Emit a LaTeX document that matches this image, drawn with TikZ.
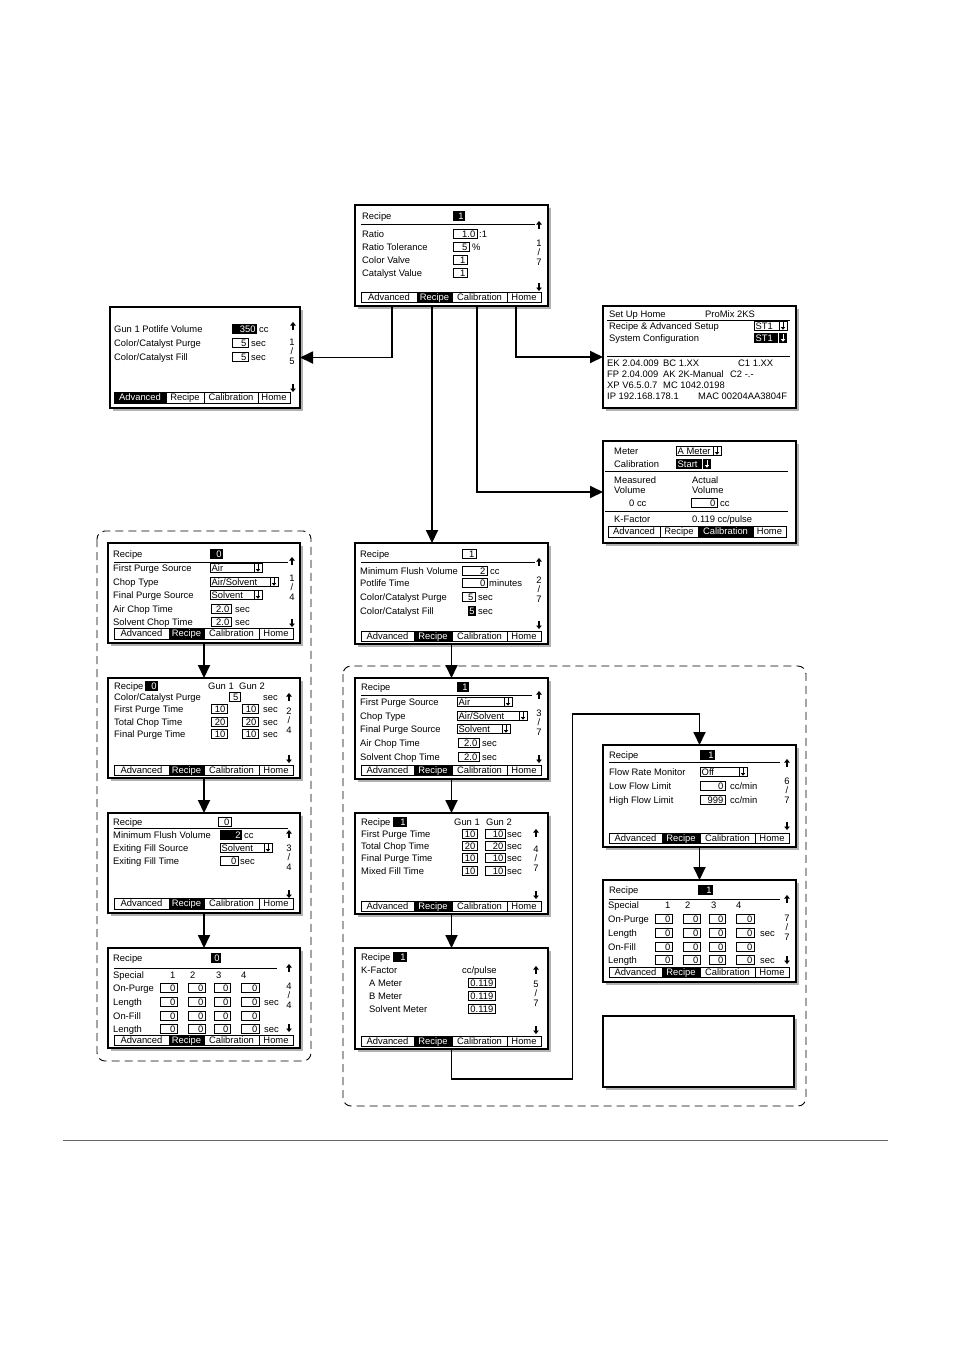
\documentclass[tikz,border=0pt]{standalone}
\usepackage{fontspec}
\setmainfont{Liberation Sans}
\usetikzlibrary{arrows.meta,shadows}
\newcount\tcnt
\newcommand\lcd{\fontsize{9.4}{10}\selectfont}
\newcommand\nx{\global\advance\tcnt by 1\relax}
\tikzset{
  scr/.style={draw,line width=1.3pt,fill=white,anchor=north west,inner sep=0pt,outer sep=0pt,
    drop shadow={shadow xshift=2.5pt,shadow yshift=-2.5pt,opacity=0.5,fill=black!60}},
  lt/.style={anchor=base west,inner sep=0pt,font=\lcd},
  rt/.style={anchor=base east,inner sep=0pt,font=\lcd},
  ct/.style={anchor=base,inner sep=0pt,font=\lcd},
  bx/.style={line width=0.7pt},
  ddarr/.style={line width=1pt,-{Triangle[length=2.6pt,width=4.2pt]}},
  sarr/.style={line width=1.2pt,-{Triangle[length=3.5pt,width=5.5pt]}},
  conn/.style={line width=1.8pt,-{Triangle[length=13pt,width=12pt]}},
  region/.style={line width=0.9pt,dash pattern=on 8pt off 5pt,rounded corners=8pt},
}
\newcommand\screen[5]{\node[scr,minimum width=#4pt,minimum height=#5pt] (#1) at (#2,#3) {};}
\newcommand\lbl[3]{\nx\node[lt] (t\the\tcnt) at (#1,#2+3.3) {#3};}
\newcommand\vb[4]{\draw[bx] (#1,#3-4.7) rectangle (#2,#3+4.7);\nx\node[rt] (t\the\tcnt) at (#2-1.5,#3+3.3) {#4};}
\newcommand\hb[4]{\fill (#1,#3-4.7) rectangle (#2,#3+4.7);\nx\node[rt,text=white] (t\the\tcnt) at (#2-1.2,#3+3.3) {#4};}
\newcommand\dd[4]{\draw[bx] (#1,#3-4.7) rectangle (#2,#3+4.7) (#2-8,#3-4.7) -- (#2-8,#3+4.7);
  \nx\node[lt] (t\the\tcnt) at (#1+1.5,#3+3.3) {#4};
  \draw[ddarr] (#2-4,#3-3.7) -- (#2-4,#3+3.7);}
\newcommand\hdd[4]{\fill (#1,#3-4.7) rectangle (#2,#3+4.7);
  \draw[white,line width=0.5pt] (#2-8.5,#3-4.7) -- (#2-8.5,#3+4.7);
  \nx\node[lt,text=white] (t\the\tcnt) at (#1+1.5,#3+3.3) {#4};
  \draw[ddarr,white] (#2-4,#3-3.7) -- (#2-4,#3+3.7);}
\newcommand\ua[2]{\draw[sarr] (#1,#2+4) -- (#1,#2-4);}
\newcommand\da[2]{\draw[sarr] (#1,#2-4) -- (#1,#2+4);}
\newcommand\sep[2]{\draw[bx] (6,#1) -- (#2,#1);}
\newcommand\pg[4]{\nx\node[ct] (t\the\tcnt) at (#1,#2+3.3) {#3};
  \nx\node[ct] (t\the\tcnt) at (#1,#2+12.8) {/};
  \nx\node[ct] (t\the\tcnt) at (#1,#2+22.3) {#4};}
\newcommand\tabl[7]{\ifnum#6=#7\relax\def\tcol{white}\else\def\tcol{black}\fi
  \nx\node[ct,text=\tcol] (t\the\tcnt) at ({(#1+#2)/2},{(#3+#4)/2+3.3}) {#5};}
\newcommand\tabsx[8]{%
  \ifcase#8\or\fill (#1,#6) rectangle (#2,#7);\or\fill (#2,#6) rectangle (#3,#7);\or
  \fill (#3,#6) rectangle (#4,#7);\or\fill (#4,#6) rectangle (#5,#7);\fi
  \draw[bx] (#1,#6) rectangle (#5,#7) (#2,#6) -- (#2,#7) (#3,#6) -- (#3,#7) (#4,#6) -- (#4,#7);
  \tabl{#1}{#2}{#6}{#7}{Advanced}{1}{#8}
  \tabl{#2}{#3}{#6}{#7}{Recipe}{2}{#8}
  \tabl{#3}{#4}{#6}{#7}{Calibration}{3}{#8}
  \tabl{#4}{#5}{#6}{#7}{Home}{4}{#8}}
\newcommand\sprow[3]{\lbl{#3}{#1}{#2}\vb{52}{69}{#1}{0}\vb{80}{97}{#1}{0}\vb{106}{122}{#1}{0}\vb{133}{151}{#1}{0}}
\begin{document}
\begin{tikzpicture}[x=1pt,y=-1pt]
\useasboundingbox (0,0) rectangle (954,1350);
% dashed regions
\draw[region] (97,531) rectangle (311,1061);
\draw[region] (343,666) rectangle (806,1106);
\draw[black!60,line width=0.8pt] (63,1140) -- (888,1140);
% ---------- screens ----------
\screen{s0}{355}{205}{193}{101}
\begin{scope}[shift={(355,205)}]
\lbl{7}{11}{Recipe}\hb{98}{110}{11}{1}
\sep{19}{180}\ua{184}{20}
\lbl{7}{29}{Ratio}\vb{98}{122}{29}{1.0}\lbl{124}{29}{:1}
\lbl{7}{42}{Ratio Tolerance}\vb{98}{114}{42}{5}\lbl{117}{42}{\%}
\lbl{7}{55}{Color Valve}\vb{98}{112}{55}{1}
\lbl{7}{68}{Catalyst Value}\vb{98}{112}{68}{1}
\pg{184}{38}{1}{7}\da{184}{82}
\tabsx{6}{62}{97}{152}{186}{87}{97}{2}
\end{scope}
\screen{sa}{110}{307}{190}{101}
\begin{scope}[shift={(110,307)}]
\lbl{4}{22}{Gun 1 Potlife Volume}\hb{122}{147}{22}{350}\lbl{149}{22}{cc}
\lbl{4}{36}{Color/Catalyst Purge}\vb{122}{138}{36}{5}\lbl{141}{36}{sec}
\lbl{4}{50}{Color/Catalyst Fill}\vb{122}{138}{50}{5}\lbl{141}{50}{sec}
\ua{183}{19}\pg{182}{35}{1}{5}\da{183}{81}
\tabsx{4}{56}{94}{148}{180}{85}{96}{1}
\end{scope}
\screen{sh}{603}{306}{193}{102}
\begin{scope}[shift={(603,306)}]
\lbl{6}{8}{Set Up Home}\lbl{102}{8}{ProMix 2KS}
\draw[bx] (4,14) -- (187,14);
\lbl{6}{20}{Recipe \& Advanced Setup}\dd{151}{184}{20}{ST1}
\lbl{6}{32}{System Configuration}\hdd{151}{184}{32}{ST1}
\draw[line width=1pt] (4,50) -- (187,50);
\lbl{4}{57}{EK 2.04.009}\lbl{60}{57}{BC 1.XX}\lbl{135}{57}{C1 1.XX}
\lbl{4}{68}{FP 2.04.009}\lbl{60}{68}{AK 2K-Manual}\lbl{127}{68}{C2 -.-}
\lbl{4}{79}{XP V6.5.0.7}\lbl{60}{79}{MC 1042.0198}
\lbl{4}{90}{IP 192.168.178.1}\lbl{95}{90}{MAC 00204AA3804F}
\end{scope}
\screen{sm}{603}{441}{193}{102}
\begin{scope}[shift={(603,441)}]
\lbl{11}{10}{Meter}\dd{73}{118}{10}{A Meter}
\lbl{11}{23}{Calibration}\hdd{73}{108}{23}{Start}
\draw[line width=1pt] (2,30) -- (185,30);
\lbl{11}{39}{Measured}\lbl{89}{39}{Actual}
\lbl{11}{49}{Volume}\lbl{89}{49}{Volume}
\lbl{26}{62}{0 cc}\vb{88}{114}{62}{0}\lbl{117}{62}{cc}
\draw[bx] (2,70) -- (185,70);
\lbl{11}{78}{K-Factor}\lbl{89}{78}{0.119 cc/pulse}
\tabsx{5}{57}{95}{150}{183}{85}{96}{3}
\end{scope}
% left column
\screen{l1}{108}{543}{192}{100}
\begin{scope}[shift={(108,543)}]
\lbl{5}{11}{Recipe}\hb{102}{115}{11}{0}
\sep{19}{180}\ua{184}{18}
\lbl{5}{25}{First Purge Source}\dd{102}{154}{25}{Air}
\lbl{5}{39}{Chop Type}\dd{102}{170}{39}{Air/Solvent}
\lbl{5}{52}{Final Purge Source}\dd{102}{154}{52}{Solvent}
\lbl{5}{66}{Air Chop Time}\vb{103}{123}{66}{2.0}\lbl{127}{66}{sec}
\lbl{5}{79}{Solvent Chop Time}\vb{103}{123}{79}{2.0}\lbl{127}{79}{sec}
\pg{184}{35}{1}{4}\da{184}{80}
\tabsx{6}{61}{96}{151}{185}{85}{96}{2}
\end{scope}
\screen{l2}{108}{678}{192}{100}
\begin{scope}[shift={(108,678)}]
\lbl{6}{8}{Recipe}\hb{37}{50}{8}{0}\lbl{100}{8}{Gun 1}\lbl{131}{8}{Gun 2}
\lbl{6}{19}{Color/Catalyst Purge}\vb{121}{132}{19}{5}\lbl{155}{19}{sec}\ua{181}{19}
\lbl{6}{31}{First Purge Time}\vb{103}{119}{31}{10}\vb{134}{150}{31}{10}\lbl{155}{31}{sec}
\lbl{6}{44}{Total Chop Time}\vb{103}{119}{44}{20}\vb{134}{150}{44}{20}\lbl{155}{44}{sec}
\lbl{6}{56}{Final Purge Time}\vb{103}{119}{56}{10}\vb{134}{150}{56}{10}\lbl{155}{56}{sec}
\pg{181}{33}{2}{4}\da{181}{81}
\tabsx{6}{61}{96}{151}{185}{87}{97}{2}
\end{scope}
\screen{l3}{108}{813}{192}{100}
\begin{scope}[shift={(108,813)}]
\lbl{5}{9}{Recipe}\vb{110}{123}{9}{0}
\sep{15.5}{180}\ua{181}{21}
\lbl{5}{22}{Minimum Flush Volume}\hb{112}{134}{22}{2}\lbl{136}{22}{cc}
\lbl{5}{35}{Exiting Fill Source}\dd{112}{164}{35}{Solvent}
\lbl{5}{48}{Exiting Fill Time}\vb{112}{130}{48}{0}\lbl{132}{48}{sec}
\pg{181}{35}{3}{4}\da{181}{81}
\tabsx{6}{61}{96}{151}{185}{85}{96}{2}
\end{scope}
\screen{l4}{108}{948}{192}{100}
\begin{scope}[shift={(108,948)}]
\lbl{5}{10}{Recipe}\hb{103}{113}{10}{0}
\sep{20}{169}\ua{181}{20}
\lbl{5}{27}{Special}\lbl{62}{27}{1}\lbl{82}{27}{2}\lbl{108}{27}{3}\lbl{133}{27}{4}
\sprow{40}{On-Purge}{5}\sprow{54}{Length}{5}\lbl{156}{54}{sec}
\sprow{68}{On-Fill}{5}\sprow{81}{Length}{5}\lbl{156}{81}{sec}
\pg{181}{38}{4}{4}\da{181}{80}
\tabsx{6}{61}{96}{151}{185}{87}{97}{2}
\end{scope}
% centre column
\screen{c1}{355}{543}{193}{101}
\begin{scope}[shift={(355,543)}]
\lbl{5}{11}{Recipe}\vb{107}{121}{11}{1}
\sep{19}{180}\ua{184}{19}
\lbl{5}{28}{Minimum Flush Volume}\vb{107}{132}{28}{2}\lbl{135}{28}{cc}
\lbl{5}{40}{Potlife Time}\vb{107}{132}{40}{0}\lbl{134}{40}{minutes}
\lbl{5}{54}{Color/Catalyst Purge}\vb{107}{120}{54}{5}\lbl{123}{54}{sec}
\lbl{5}{68}{Color/Catalyst Fill}\hb{113}{121}{68}{5}\lbl{123}{68}{sec}
\pg{184}{37}{2}{7}\da{184}{82}
\tabsx{6}{59}{97}{152}{186}{88}{98}{2}
\end{scope}
\screen{c2}{355}{678}{193}{101}
\begin{scope}[shift={(355,678)}]
\lbl{6}{9}{Recipe}\hb{102}{114}{9}{1}
\sep{17}{177}\ua{184}{17}
\lbl{5}{24}{First Purge Source}\dd{102}{157}{24}{Air}
\lbl{5}{38}{Chop Type}\dd{102}{172}{38}{Air/Solvent}
\lbl{5}{51}{Final Purge Source}\dd{102}{155}{51}{Solvent}
\lbl{5}{65}{Air Chop Time}\vb{103}{124}{65}{2.0}\lbl{127}{65}{sec}
\lbl{5}{79}{Solvent Chop Time}\vb{103}{124}{79}{2.0}\lbl{127}{79}{sec}
\pg{184}{35}{3}{7}\da{184}{81}
\tabsx{6}{59}{97}{152}{186}{87}{97}{2}
\end{scope}
\screen{c3}{355}{813}{193}{101}
\begin{scope}[shift={(355,813)}]
\lbl{6}{9}{Recipe}\hb{38}{52}{9}{1}\lbl{99}{9}{Gun 1}\lbl{131}{9}{Gun 2}
\ua{181}{20}
\lbl{6}{21}{First Purge Time}\vb{107}{122}{21}{10}\vb{130}{150}{21}{10}\lbl{152}{21}{sec}
\lbl{6}{33}{Total Chop Time}\vb{107}{122}{33}{20}\vb{130}{150}{33}{20}\lbl{152}{33}{sec}
\lbl{6}{45}{Final Purge Time}\vb{107}{122}{45}{10}\vb{130}{150}{45}{10}\lbl{152}{45}{sec}
\lbl{6}{58}{Mixed Fill Time}\vb{107}{122}{58}{10}\vb{130}{150}{58}{10}\lbl{152}{58}{sec}
\pg{181}{36}{4}{7}\da{181}{82}
\tabsx{6}{59}{97}{152}{186}{88}{98}{2}
\end{scope}
\screen{c4}{355}{948}{193}{101}
\begin{scope}[shift={(355,948)}]
\lbl{6}{9}{Recipe}\hb{38}{52}{9}{1}
\lbl{6}{22}{K-Factor}\lbl{107}{22}{cc/pulse}\ua{181}{22}
\lbl{14}{35}{A Meter}\vb{113}{140}{35}{0.119}
\lbl{14}{48}{B Meter}\vb{113}{140}{48}{0.119}
\lbl{14}{61}{Solvent Meter}\vb{113}{140}{61}{0.119}
\pg{181}{36}{5}{7}\da{181}{82}
\tabsx{6}{59}{97}{152}{186}{88}{98}{2}
\end{scope}
% right column
\screen{r1}{603}{745}{193}{102}
\begin{scope}[shift={(603,745)}]
\lbl{6}{10}{Recipe}\hb{97}{112}{10}{1}
\sep{17}{177}\ua{184}{18}
\lbl{6}{27}{Flow Rate Monitor}\dd{97}{144}{27}{Off}
\lbl{6}{41}{Low Flow Limit}\vb{97}{122}{41}{0}\lbl{127}{41}{cc/min}
\lbl{6}{55}{High Flow Limit}\vb{97}{122}{55}{999}\lbl{127}{55}{cc/min}
\pg{184}{36}{6}{7}\da{184}{81}
\tabsx{6}{59}{97}{152}{186}{88}{98}{2}
\end{scope}
\screen{r2}{603}{880}{193}{102}
\begin{scope}[shift={(603,880)}]
\lbl{6}{10}{Recipe}\hb{95}{110}{10}{1}
\sep{19}{177}\ua{184}{19}
\lbl{5}{25}{Special}\lbl{62}{25}{1}\lbl{82}{25}{2}\lbl{108}{25}{3}\lbl{133}{25}{4}
\sprow{39}{On-Purge}{5}\sprow{53}{Length}{5}\lbl{157}{53}{sec}
\sprow{67}{On-Fill}{5}\sprow{80}{Length}{5}\lbl{157}{80}{sec}
\pg{184}{38}{7}{7}\da{184}{80}
\tabsx{6}{59}{97}{152}{186}{87}{97}{2}
\end{scope}
\screen{er}{603}{1016}{191}{71}
% ---------- connectors ----------
\path (s0.south west) ++(37,0) coordinate (adv);
\path (s0.south west) ++(77,0) coordinate (rcp);
\path (s0.south west) ++(122,0) coordinate (cal);
\path (s0.south west) ++(161,0) coordinate (hom);
\draw[conn] (adv) |- (sa.east);
\draw[conn] (hom) |- (sh.west);
\draw[conn] (cal) |- (sm.west);
\draw[conn] (rcp) -- (rcp |- c1.north);
\draw[conn] (l1.south) -- (l2.north);
\draw[conn] (l2.south) -- (l3.north);
\draw[conn] (l3.south) -- (l4.north);
\draw[conn] (c1.south) -- (c2.north);
\draw[conn] (c2.south) -- (c3.north);
\draw[conn] (c3.south) -- (c4.north);
\draw[conn] (c4.south) -- ++(0,30) -- ++(121,0) -- ++(0,-365) -| (r1.north);
\draw[conn] (r1.south) -- (r2.north);
\end{tikzpicture}
\end{document}
